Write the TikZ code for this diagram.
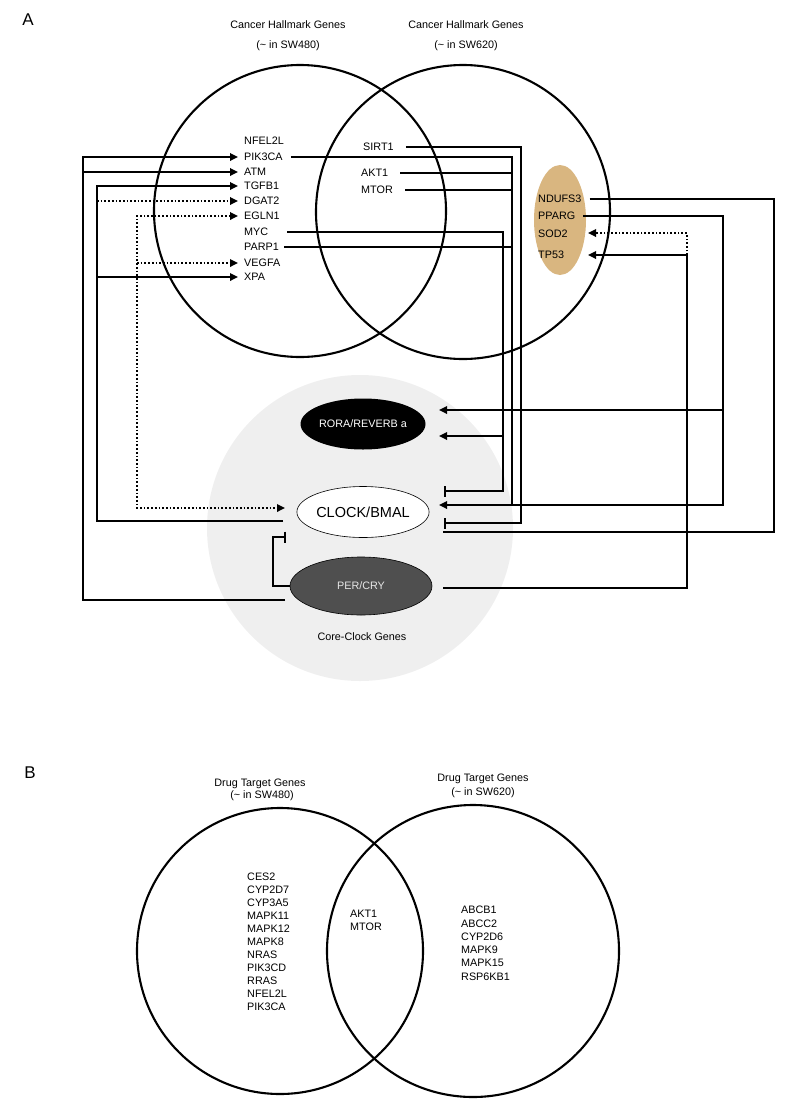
\documentclass[tikz,border=0pt]{standalone}
\usepackage{fontspec}
\setmainfont{Liberation Sans}
\usetikzlibrary{arrows.meta,shapes.geometric}
\definecolor{coregray}{HTML}{EFEFEF}
\definecolor{pergray}{HTML}{4F4F4F}
\definecolor{pertext}{HTML}{E6E6E6}
\definecolor{tanfill}{HTML}{D9B680}
\begin{document}
\begin{tikzpicture}[x=1pt,y=-1pt,
  lbl/.style={font=\fontsize{10.8}{13}\selectfont, inner ysep=1pt},
  gene/.style={lbl, anchor=west, inner xsep=6pt},
  tgene/.style={lbl, anchor=west, inner xsep=4pt},
  bgene/.style={lbl, anchor=west, inner xsep=3pt},
  panel/.style={font=\fontsize{17}{20}\selectfont},
  venn/.style={line width=2.1pt},
  conn/.style={line width=1.7pt},
  act/.style={conn, -{Triangle[length=8pt,width=7.5pt]}},
  biact/.style={conn, {Triangle[length=8pt,width=7.5pt]}-{Triangle[length=8pt,width=7.5pt]}},
  inh/.style={conn, -{Bar[width=11pt,line width=1.7pt]}},
  weak/.style={dotted},
  clockell/.style={ellipse, inner sep=0pt}
]
\useasboundingbox (0,0) rectangle (787,1114);

% ---------- Panel A ----------
\node[panel] (pA) at (28,20) {A};

% core clock background
\node[circle, fill=coregray, minimum size=306pt, inner sep=0pt] (core) at (360,528) {};
\node[lbl] (coretxt) at (362,637) {Core-Clock Genes};

% Venn circles
\node[venn, circle, draw, minimum size=292pt, inner sep=0pt] (vA1) at (300,211) {};
\node[venn, circle, draw, minimum size=294pt, inner sep=0pt] (vA2) at (463,212) {};

\node[lbl] (t1a) at (288,25) {Cancer Hallmark Genes};
\node[lbl] (t1b) at (288,46) {(\textasciitilde{} in SW480)};
\node[lbl] (t2a) at (466,25) {Cancer Hallmark Genes};
\node[lbl] (t2b) at (466,46) {(\textasciitilde{} in SW620)};

% tan ellipse
\node[ellipse, fill=tanfill, minimum width=52pt, minimum height=110pt, inner sep=0pt] (tan) at (560,220) {};

% left genes
\node[gene] (nfel2l) at (238,141) {NFEL2L};
\node[gene] (pik3ca) at (238,157) {PIK3CA};
\node[gene] (atm)    at (238,172) {ATM};
\node[gene] (tgfb1)  at (238,186) {TGFB1};
\node[gene] (dgat2)  at (238,201) {DGAT2};
\node[gene] (egln1)  at (238,216) {EGLN1};
\node[gene] (myc)    at (238,232) {MYC};
\node[gene] (parp1)  at (238,247) {PARP1};
\node[gene] (vegfa)  at (238,263) {VEGFA};
\node[gene] (xpa)    at (238,277) {XPA};

% middle genes
\node[gene] (sirt1) at (357,147) {SIRT1};
\node[gene] (akt1)  at (355,173) {AKT1};
\node[gene] (mtor)  at (355,190) {MTOR};

% right (tan) genes
\node[tgene] (ndufs3) at (534,199) {NDUFS3};
\node[tgene] (pparg)  at (534,216) {PPARG};
\node[tgene] (sod2)   at (534,234) {SOD2};
\node[tgene] (tp53)   at (534,255) {TP53};

% clock ellipses
\node[clockell, fill=black, text=white, minimum width=125pt, minimum height=51pt, lbl] (rora) at (363,424) {RORA/REVERB a};
\node[clockell, draw, line width=0.6pt, fill=white, minimum width=125pt, minimum height=51pt, font=\fontsize{14.5}{16}\selectfont] (clock) at (363,512) {CLOCK/BMAL};
\node[clockell, draw, line width=0.6pt, fill=pergray, text=pertext, minimum width=142pt, minimum height=58pt, lbl] (per) at (361,586) {PER/CRY};

% named connector end points
\coordinate (perL) at (285,600);
\coordinate (perR) at (443,588);
\coordinate (jATM) at (83,172);
\coordinate (clkL) at (283,521);
\coordinate (jXPA) at (97,277);
\coordinate (jDGAT) at (97,201);
\coordinate (clkDot) at (285,508);
\coordinate (jVEG) at (137,263);
\coordinate (clkInhL) at (286,537);
\coordinate (rorIn1) at (439,410);
\coordinate (rorIn2) at (439,436);
\coordinate (clkB1) at (444,491);
\coordinate (clkIn) at (439,505);
\coordinate (clkB2) at (444,523);
\coordinate (clkEnd) at (443,532);
\coordinate (jR1) at (723,410);
\coordinate (jR2) at (503,436);
\coordinate (sod2In) at (588,233);
\coordinate (tp53In) at (588,255);
\coordinate (jTP) at (687,255);

% left side connectors
\draw[act] (perL) -| (83,157) -- (pik3ca.west);
\draw[act] (jATM) -- (atm.west);
\draw[act] (clkL) -| (97,186) -- (tgfb1.west);
\draw[act] (jXPA) -- (xpa.west);
\draw[act, weak] (jDGAT) -- (dgat2.west);
\draw[biact, weak] (egln1.west) -| (137,508) -- (clkDot);
\draw[act, weak] (jVEG) -- (vegfa.west);
\draw[inh] (per.west) -| (273,537) -- (clkInhL);

% right side connectors
\draw[conn] ([xshift=2pt]pik3ca.east) -- (512,157) -- (512,505);
\draw[conn] ([xshift=-1pt]parp1.east) -- (512,247);
\draw[conn] ([xshift=6pt]akt1.east) -- (512,173);
\draw[conn] ([xshift=6pt]mtor.east) -- (512,190);
\draw[inh] ([xshift=6pt]sirt1.east) -| (521,523) -- (clkB2);
\draw[inh] ([xshift=13pt]myc.east) -| (503,491) -- (clkB1);
\draw[act] (jR2) -- (rorIn2);
\draw[act] ([xshift=4pt]pparg.east) -| (723,505) -- (clkIn);
\draw[act] (jR1) -- (rorIn1);
\draw[conn] ([xshift=4pt]ndufs3.east) -| (774,532) -- (clkEnd);
\draw[act] (perR) -| (jTP) -- (tp53In);
\draw[act, weak] (jTP) |- (sod2In);

% ---------- Panel B ----------
\node[panel] (pB) at (30,773) {B};

\node[venn, circle, draw, minimum size=286pt, inner sep=0pt] (vB1) at (280,951) {};
\node[venn, circle, draw, minimum size=292pt, inner sep=0pt] (vB2) at (473,951) {};

\node[lbl] (t3a) at (260,784) {Drug Target Genes};
\node[lbl] (t3b) at (262,796) {(\textasciitilde{} in SW480)};
\node[lbl] (t4a) at (483,779) {Drug Target Genes};
\node[lbl] (t4b) at (483,793) {(\textasciitilde{} in SW620)};

\foreach \g [count=\i] in {CES2,CYP2D7,CYP3A5,MAPK11,MAPK12,MAPK8,NRAS,PIK3CD,RRAS,NFEL2L,PIK3CA}
  \node[bgene] (bl\i) at (244,{877+13*(\i-1)}) {\g};
\node[bgene] (bm1) at (347,914) {AKT1};
\node[bgene] (bm2) at (347,927) {MTOR};
\foreach \g [count=\i] in {ABCB1,ABCC2,CYP2D6,MAPK9,MAPK15,RSP6KB1}
  \node[bgene] (br\i) at (458,{910+13.3*(\i-1)}) {\g};

\end{tikzpicture}
\end{document}
